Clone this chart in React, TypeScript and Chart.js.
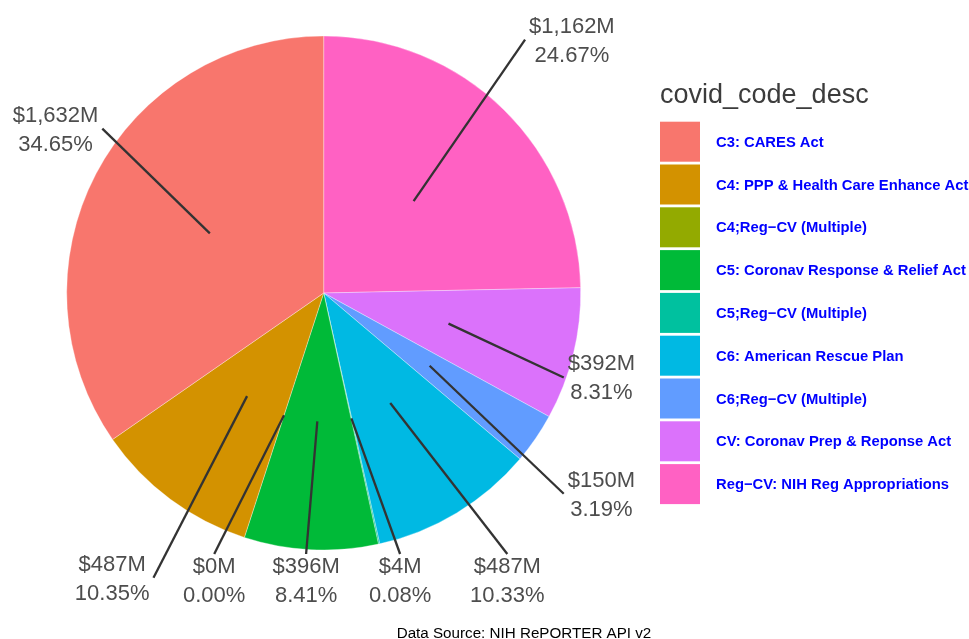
import React, { useEffect, useRef } from "react";
import { Chart, registerables } from "chart.js";

Chart.register(...registerables);

// ---------- data ----------
const categories = [
  "C3: CARES Act",
  "C4: PPP & Health Care Enhance Act",
  "C4;Reg\u2212CV (Multiple)",
  "C5: Coronav Response & Relief Act",
  "C5;Reg\u2212CV (Multiple)",
  "C6: American Rescue Plan",
  "C6;Reg\u2212CV (Multiple)",
  "CV: Coronav Prep & Reponse Act",
  "Reg\u2212CV: NIH Reg Appropriations",
];
const amountsM = [1632, 487, 0, 396, 4, 487, 150, 392, 1162];
const sharePct = [34.65, 10.35, 0.0, 8.41, 0.08, 10.33, 3.19, 8.31, 24.67];
const colors = [
  "#F8766D",
  "#D39200",
  "#93AA00",
  "#00BA38",
  "#00C19F",
  "#00B9E3",
  "#619CFF",
  "#DB72FB",
  "#FF61C3",
];
const legendTitle = "covid_code_desc";
const caption = "Data Source: NIH RePORTER API v2";

// ---------- style / layout ----------
const FONT = "'Liberation Sans', Arial, Helvetica, sans-serif";
const W = 969;
const H = 639;
const PANEL = { left: 8.7, right: 639, top: 5, bottom: 606 };
const LABEL_START = 0.5;
const LABEL_NUDGE = 1.38;

const n = categories.length;
// ggplot draws the stack counter-clockwise from 12 o'clock; Chart.js goes clockwise
const chartOrder = categories.map((_, i) => n - 1 - i);

const fmtAmount = (v: number) => "$" + v.toLocaleString("en-US") + "M";
const fmtPct = (v: number) => v.toFixed(2) + "%";

const labelPlugin = {
  id: "pieLabels",
  afterDatasetsDraw(chart: any) {
    const ctx = chart.ctx as CanvasRenderingContext2D;
    const meta = chart.getDatasetMeta(0);
    ctx.save();
    ctx.font = `22px ${FONT}`;
    const items: any[] = [];
    meta.data.forEach((arc: any, i: number) => {
      const idx = chartOrder[i];
      const p = arc.getProps(["x", "y", "startAngle", "endAngle", "outerRadius"], true);
      const mid = (p.startAngle + p.endAngle) / 2;
      const sx = p.x + Math.cos(mid) * p.outerRadius * LABEL_START;
      const sy = p.y + Math.sin(mid) * p.outerRadius * LABEL_START;
      let cx = p.x + Math.cos(mid) * p.outerRadius * LABEL_NUDGE;
      let cy = p.y + Math.sin(mid) * p.outerRadius * LABEL_NUDGE;
      const l1 = fmtAmount(amountsM[idx]);
      const l2 = fmtPct(sharePct[idx]);
      const w = Math.max(ctx.measureText(l1).width, ctx.measureText(l2).width);
      const hw = w / 2 + 4;
      const hh = 26;
      cx = Math.min(Math.max(cx, PANEL.left + hw), PANEL.right - hw);
      cy = Math.min(Math.max(cy, PANEL.top + hh), PANEL.bottom - hh);
      const cands = [
        [cx - hw, cy],
        [cx + hw, cy],
        [cx, cy - hh],
        [cx, cy + hh],
      ];
      let best = cands[0];
      let bd = Infinity;
      cands.forEach((c) => {
        const d = Math.hypot(c[0] - sx, c[1] - sy);
        if (d < bd) {
          bd = d;
          best = c;
        }
      });
      items.push({ sx, sy, ex: best[0], ey: best[1], cx, cy, l1, l2 });
    });
    ctx.strokeStyle = "#333333";
    ctx.lineWidth = 2.3;
    ctx.lineCap = "butt";
    items.forEach((it) => {
      ctx.beginPath();
      ctx.moveTo(it.sx, it.sy);
      ctx.lineTo(it.ex, it.ey);
      ctx.stroke();
    });
    ctx.fillStyle = "#4D4D4D";
    ctx.textAlign = "center";
    ctx.textBaseline = "alphabetic";
    items.forEach((it) => {
      ctx.fillText(it.l1, it.cx, it.cy - 7);
      ctx.fillText(it.l2, it.cx, it.cy + 22);
    });
    ctx.restore();
  },
};

const legendPlugin = {
  id: "ggLegend",
  afterDraw(chart: any) {
    const ctx = chart.ctx as CanvasRenderingContext2D;
    ctx.save();
    ctx.textAlign = "left";
    ctx.textBaseline = "alphabetic";
    ctx.fillStyle = "#3C3C3C";
    ctx.font = `27px ${FONT}`;
    ctx.fillText(legendTitle, 660, 103);
    const top0 = 121.7;
    const step = 42.8;
    categories.forEach((cat, i) => {
      const y = top0 + i * step;
      ctx.fillStyle = colors[i];
      ctx.fillRect(660, y, 40, 40);
      ctx.fillStyle = "#0000FF";
      ctx.font = `bold 14.8px ${FONT}`;
      ctx.fillText(cat, 716, y + 25);
    });
    ctx.fillStyle = "#000000";
    ctx.font = `15.2px ${FONT}`;
    ctx.textAlign = "center";
    ctx.fillText(caption, 524, 638);
    ctx.restore();
  },
};

export default function App() {
  const ref = useRef<HTMLCanvasElement | null>(null);
  useEffect(() => {
    if (!ref.current) return;
    const chart = new Chart(ref.current, {
      type: "pie",
      data: {
        labels: chartOrder.map((i) => categories[i]),
        datasets: [
          {
            data: chartOrder.map((i) => sharePct[i]),
            backgroundColor: chartOrder.map((i) => colors[i]),
            borderColor: "rgba(255,255,255,0.55)",
            borderWidth: 0.6,
          },
        ],
      },
      options: {
        responsive: false,
        animation: false,
        devicePixelRatio: 1,
        layout: {
          padding: { left: 66.4, right: 388, top: 35.7, bottom: 88.7 },
        },
        plugins: {
          legend: { display: false },
          tooltip: { enabled: false },
        },
      },
      plugins: [labelPlugin, legendPlugin],
    });
    return () => chart.destroy();
  }, []);
  return (
    <div
      style={{
        position: "fixed",
        left: 0,
        top: 0,
        width: W,
        height: H,
        background: "#ffffff",
      }}
    >
      <canvas ref={ref} width={W} height={H} style={{ display: "block" }} />
    </div>
  );
}
